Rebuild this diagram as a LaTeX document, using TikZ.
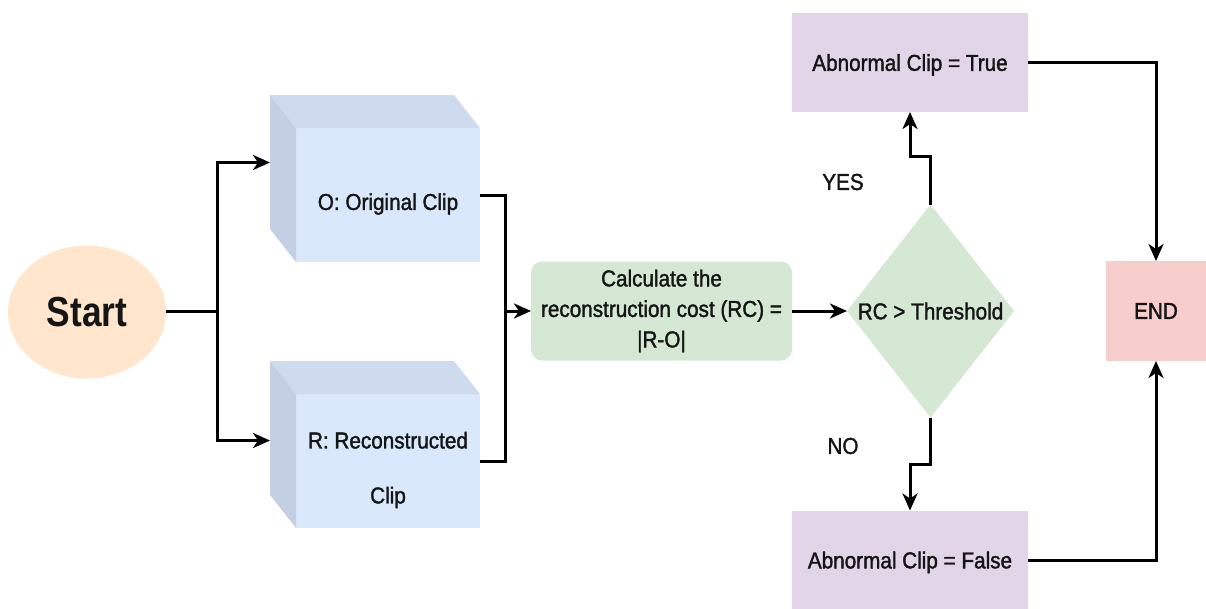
\documentclass[tikz,border=0pt]{standalone}
\usepackage{fontspec}
\setmainfont{Liberation Sans}
\newfontfamily\dfont[FakeStretch=0.9,FakeBold=1.6]{Liberation Sans}
\newfontfamily\bigfont[FakeStretch=0.84]{Liberation Sans Bold}
\usetikzlibrary{calc,arrows.meta,shapes.geometric}
\definecolor{startfill}{HTML}{FFE6CC}
\definecolor{cubefront}{HTML}{DAE8FC}
\definecolor{cubetop}{HTML}{CEDBEF}
\definecolor{cubeside}{HTML}{C3CFE3}
\definecolor{greenfill}{HTML}{D5E8D4}
\definecolor{purplefill}{HTML}{E1D5E7}
\definecolor{redfill}{HTML}{F8CECC}
\definecolor{ink}{HTML}{151515}
\tikzset{
  txt/.style={font=\dfont\fontsize{23}{30.5}\selectfont, text=ink, inner sep=0pt, align=center},
  cube/.style={minimum width=210pt, minimum height=167pt, inner sep=0pt, outer sep=0pt,
    path picture={
      \coordinate (pnw) at (path picture bounding box.north west);
      \coordinate (pse) at (path picture bounding box.south east);
      \fill[cubefront] ($(pnw)+(26pt,-33pt)$) rectangle (pse);
      \fill[cubetop] (pnw) -- ($(pnw)+(184pt,0pt)$) -- ($(pnw)+(210pt,-33pt)$) -- ($(pnw)+(26pt,-33pt)$) -- cycle;
      \fill[cubeside] (pnw) -- ($(pnw)+(26pt,-33pt)$) -- ($(pse)+(-184pt,0pt)$) -- ($(pse)+(-210pt,33pt)$) -- cycle;
    }},
  decision/.style={txt, text depth=0pt, minimum width=167pt, minimum height=213pt, outer sep=0pt,
    path picture={
      \fill[greenfill] (path picture bounding box.north) -- (path picture bounding box.east)
        -- (path picture bounding box.south) -- (path picture bounding box.west) -- cycle;
    }},
  procbox/.style={txt, fill=greenfill, rounded corners=11pt, minimum width=261pt, minimum height=99pt, outer sep=0pt},
  result/.style={txt, text depth=0pt, fill=purplefill, minimum width=236pt, minimum height=99pt, outer sep=0pt},
  endbox/.style={txt, text depth=0pt, fill=redfill, minimum width=100pt, minimum height=100pt, outer sep=0pt},
  conn/.style={line width=3pt, draw=black},
  arr/.style={conn, -{Stealth[length=17pt,width=15pt,inset=5pt]}},
}
\begin{document}
\begin{tikzpicture}[x=1pt, y=-1pt]
\useasboundingbox (0,0) rectangle (1206,608);

% start terminal
\node[ellipse, fill=startfill, minimum width=158pt, minimum height=133pt, inner sep=0pt,
      font=\bigfont\fontsize{42}{42}\selectfont, text=ink] (start) at (87,312) {Start};

% the two clips
\node[cube] (ocube) at (375,178.5) {};
\node[txt] (otext) at (388,204) {O: Original Clip};
\node[cube] (rcube) at (375,444.5) {};
\node[txt, font=\dfont\fontsize{23}{55}\selectfont] (rtext) at (388,470) {R: Reconstructed\\Clip};

% cost and decision
\node[procbox] (calc) at (661.5,311) {Calculate the\\reconstruction cost (RC) =\\|R-O|};
\node[decision] (dia) at (930.5,311) {RC > Threshold};

% outcomes
\node[result] (true) at (910,62.5) {Abnormal Clip = True};
\node[result] (false) at (910,560) {Abnormal Clip = False};
\node[endbox] (end) at (1156,311) {END};

\node[txt] (yes) at (843,182) {YES};
\node[txt] (no) at (843,446) {NO};

% junction points
\coordinate (split) at (217,311);
\coordinate (merge) at (505,311);

% connectors
\draw[conn] (start.east |- split) -- (split);
\draw[arr] (split) |- ($(ocube.west)+(0,-16)$);
\draw[arr] (split) |- ($(rcube.west)+(0,-4)$);
\draw[conn] ($(ocube.east)+(0,16.5)$) -| (merge);
\draw[conn] ($(rcube.east)+(0,16.5)$) -| (merge);
\draw[arr] (merge) -- (calc.west);
\draw[arr] (calc.east) -- (dia.west);
\draw[arr] (dia.north) -- ++(0,-48) -| (true.south);
\draw[arr] (dia.south) -- ++(0,47) -| (false.north);
\draw[arr] (true.east) -| (end.north);
\draw[arr] (false.east) -| (end.south);
\end{tikzpicture}
\end{document}
